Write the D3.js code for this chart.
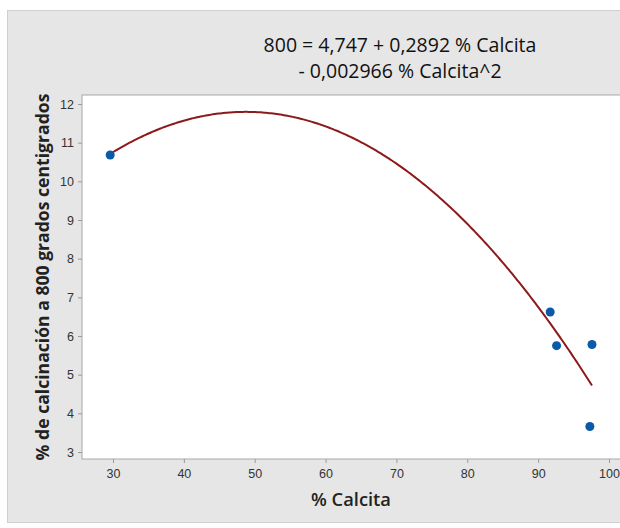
<!DOCTYPE html>
<html><head><meta charset="utf-8">
<script src="https://cdn.jsdelivr.net/npm/d3@7"></script>
<style>body{margin:0;background:#fff;}svg{display:block;font-family:"Open Sans","Noto Sans",sans-serif;}</style>
</head><body>
<svg id="c" width="620" height="528"></svg>
<script>
const calcita = [29.6, 91.7, 92.6, 97.6, 97.3];
const calcinacion = [10.68, 6.62, 5.75, 5.78, 3.66];
const coefficients = [4.747, 0.2892, -0.002966];
const xTicks = [30, 40, 50, 60, 70, 80, 90, 100];
const yTicks = [3, 4, 5, 6, 7, 8, 9, 10, 11, 12];
const titleLines = ["800 = 4,747 + 0,2892 % Calcita", "- 0,002966 % Calcita^2"];

(function () {
const svg = d3.select("#c");
svg.append("rect").attr("x", 7.5).attr("y", 10.5).attr("width", 640).attr("height", 512)
  .attr("fill", "#e6e6e6").attr("stroke", "#cfcfcf");

const x = d3.scaleLinear().domain([30, 100]).range([113, 609]);
const y = d3.scaleLinear().domain([3, 12]).range([452, 104]);
const pL = 82, pR = 640, pT = 95, pB = 459;

svg.append("rect").attr("x", pL).attr("y", pT).attr("width", pR - pL).attr("height", pB - pT)
  .attr("fill", "#fff").attr("stroke", "#a8a8a8");

const xa = svg.append("g").attr("transform", `translate(0,${pB})`)
  .call(d3.axisBottom(x).tickValues(xTicks).tickSize(4).tickPadding(4));
const ya = svg.append("g").attr("transform", `translate(${pL},0)`)
  .call(d3.axisLeft(y).tickValues(yTicks).tickSize(4).tickPadding(4));
[xa, ya].forEach(a => {
  a.select(".domain").remove();
  a.selectAll("line").attr("stroke", "#9a9a9a");
  a.selectAll("text").attr("fill", "#333").style("font-size", "12.5px");
});
xa.selectAll("text").attr("dy", "0.9em");

const xs = d3.range(d3.min(calcita), d3.max(calcita) + 0.01, 0.25);
const fit = v => coefficients[0] + coefficients[1] * v + coefficients[2] * v * v;
svg.append("path").datum(xs)
  .attr("d", d3.line().x(d => x(d)).y(d => y(fit(d))))
  .attr("fill", "none").attr("stroke", "#8c1a1a").attr("stroke-width", 2);

svg.selectAll("circle.pt").data(calcita).enter().append("circle")
  .attr("class", "pt").attr("cx", d => x(d)).attr("cy", (d, i) => y(calcinacion[i]))
  .attr("r", 4.5).attr("fill", "#0a5aa8");

svg.selectAll("text.title").data(titleLines).enter().append("text")
  .attr("class", "title").attr("x", 400).attr("y", (d, i) => 52 + i * 26)
  .attr("text-anchor", "middle").style("font-size", "19.5px").attr("fill", "#111").text(d => d);

svg.append("text").attr("x", 351).attr("y", 506).attr("text-anchor", "middle")
  .style("font-size", "18.3px").style("font-weight", "600").attr("fill", "#222").text("% Calcita");

svg.append("text").attr("transform", "translate(49,277) rotate(-90)").attr("text-anchor", "middle")
  .style("font-size", "17.6px").style("font-weight", "bold").attr("fill", "#222")
  .text("% de calcinación a 800 grados centigrados");
})();
</script>
</body></html>
